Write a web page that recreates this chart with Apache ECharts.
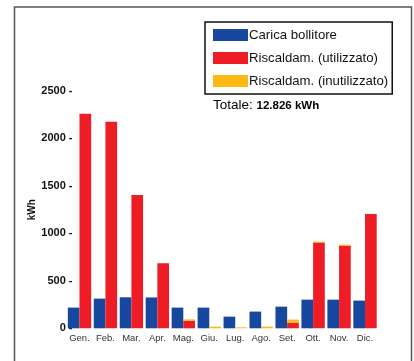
<!DOCTYPE html>
<html>
<head>
<meta charset="utf-8">
<script src="https://cdn.jsdelivr.net/npm/echarts@6/dist/echarts.min.js"></script>
<style>
  html, body { margin: 0; padding: 0; background: #fff; }
  #chart { width: 414px; height: 361px; }
</style>
</head>
<body>
<div id="chart"></div>
<script>
// Monthly energy (kWh)
const months = ['Gen.', 'Feb.', 'Mar.', 'Apr.', 'Mag.', 'Giu.', 'Lug.', 'Ago.', 'Set.', 'Ott.', 'Nov.', 'Dic.'];
const caricaBollitore = [218, 313, 327, 325, 218, 218, 123, 176, 228, 302, 302, 292];
const riscUtilizzato = [2260, 2177, 1405, 685, 80, 0, 0, 0, 60, 903, 871, 1205];
const riscInutilizzato = [0, 0, 0, 0, 14, 17, 10, 17, 32, 10, 10, 0];
const yTicks = [0, 500, 1000, 1500, 2000, 2500];
const totaleLabel = '12.826 kWh';

const FONT = '"Liberation Sans", Arial, Helvetica, sans-serif';
const chart = echarts.init(document.getElementById('chart'), null, { renderer: 'canvas' });

chart.setOption({
  animation: false,
  backgroundColor: '#ffffff',
  textStyle: { fontFamily: FONT },
  grid: { left: 66.5, right: 36, top: 91, bottom: 32.7 },
  legend: {
    orient: 'vertical',
    left: 205,
    top: 22,
    padding: [6, 4, 6, 8],
    borderColor: '#111',
    borderWidth: 1.5,
    itemWidth: 35,
    itemHeight: 12,
    itemGap: 9,
    selectedMode: false,
    icon: 'rect',
    textStyle: { fontFamily: FONT, fontSize: 13.2, color: '#111', lineHeight: 14, padding: [0, 0, 0, -4] },
    data: ['Carica bollitore', 'Riscaldam. (utilizzato)', 'Riscaldam. (inutilizzato)']
  },
  xAxis: {
    type: 'category',
    data: months,
    axisLine: { show: false },
    axisTick: { show: false },
    axisLabel: { fontFamily: FONT, fontSize: 9.5, color: '#333', margin: 5, interval: 0 }
  },
  yAxis: {
    type: 'value',
    min: yTicks[0],
    max: yTicks[yTicks.length - 1],
    interval: 500,
    name: 'kWh',
    nameLocation: 'middle',
    nameRotate: 90,
    nameGap: 29,
    nameMoveOverlap: false,
    nameTextStyle: { fontFamily: FONT, fontSize: 10, fontWeight: 'bold', color: '#111' },
    axisLine: { show: false },
    axisTick: { show: false },
    splitLine: { show: false },
    axisLabel: {
      fontFamily: FONT, fontSize: 11, fontWeight: 'bold', color: '#111', margin: -6,
      formatter: v => v + ' -'
    }
  },
  series: [
    {
      name: 'Carica bollitore',
      type: 'bar',
      data: caricaBollitore,
      itemStyle: { color: '#17479e' },
      barGap: '0%',
      barCategoryGap: '10%'
    },
    {
      name: 'Riscaldam. (utilizzato)',
      type: 'bar',
      stack: 'risc',
      data: riscUtilizzato,
      itemStyle: { color: '#ee1c25' },
      barGap: '0%',
      barCategoryGap: '10%'
    },
    {
      name: 'Riscaldam. (inutilizzato)',
      type: 'bar',
      stack: 'risc',
      data: riscInutilizzato,
      itemStyle: { color: '#fdb913' },
      barGap: '0%',
      barCategoryGap: '10%'
    }
  ],
  graphic: [
    {
      type: 'rect',
      shape: { x: 14.5, y: 7, width: 397, height: 370 },
      style: { fill: 'none', stroke: '#555', lineWidth: 1.5 },
      silent: true,
      z: 0
    },
    {
      type: 'text',
      left: 213,
      top: 98,
      style: {
        text: '{a|Totale: }{b|' + totaleLabel + '}',
        rich: {
          a: { fontFamily: FONT, fontSize: 13.5, color: '#222' },
          b: { fontFamily: FONT, fontSize: 11.5, fontWeight: 'bold', color: '#111', padding: [2, 0, 0, 0] }
        }
      }
    }
  ]
});
</script>
</body>
</html>
